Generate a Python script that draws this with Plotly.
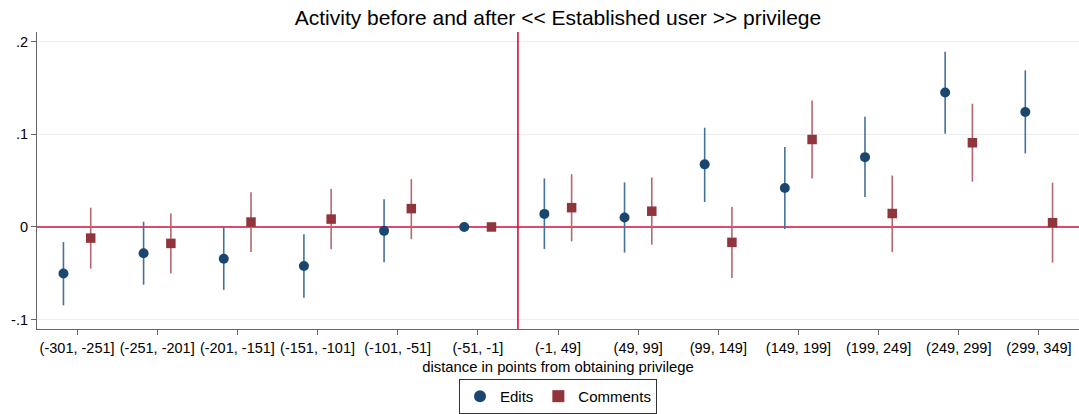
import plotly.graph_objects as go

categories = ["(-301, -251]", "(-251, -201]", "(-201, -151]", "(-151, -101]", "(-101, -51]",
              "(-51, -1]", "(-1, 49]", "(49, 99]", "(99, 149]", "(149, 199]",
              "(199, 249]", "(249, 299]", "(299, 349]"]

edits = [-0.0502, -0.0283, -0.0343, -0.0420, -0.0042, 0.0, 0.0141, 0.0102, 0.0675, 0.0420, 0.0753, 0.1449, 0.1240]
edits_hi = [-0.0163, 0.0057, 0.0004, -0.0078, 0.0300, 0.0, 0.0523, 0.0480, 0.1070, 0.0862, 0.1187, 0.1890, 0.1689]
edits_lo = [-0.0845, -0.0622, -0.0678, -0.0763, -0.0380, 0.0, -0.0237, -0.0276, 0.0269, -0.0021, 0.0322, 0.1004, 0.0792]

comments = [-0.0120, -0.0177, 0.0053, 0.0085, 0.0198, 0.0, 0.0208, 0.0170, -0.0166, 0.0943, 0.0145, 0.0908, 0.0046]
comments_hi = [0.0208, 0.0145, 0.0375, 0.0410, 0.0516, 0.0, 0.0569, 0.0534, 0.0216, 0.1364, 0.0555, 0.1329, 0.0477]
comments_lo = [-0.0449, -0.0502, -0.0269, -0.0240, -0.0131, 0.0, -0.0155, -0.0191, -0.0551, 0.0523, -0.0269, 0.0488, -0.0385]

y_tickvals = [-0.1, 0, 0.1, 0.2]
y_ticktext = ["-.1", "0", ".1", ".2"]

X_RANGE = [0.5, 13.5]
Y_RANGE = [-0.110, 0.2102]
XLINE = 6.5   # vertical reference line (privilege obtained)
YLINE = 0.0   # horizontal reference line

OFFSET = 0.17
pos = list(range(1, len(categories) + 1))

NAVY = "#1a476f"
NAVY_CI = "#44719a"
MAROON = "#90353b"
MAROON_CI = "#b8666d"
RED = "#d4103c"
FONT = "Liberation Sans, Arial, sans-serif"

fig = go.Figure()
# reference lines as traces (drawn beneath markers)
fig.add_trace(go.Scatter(x=X_RANGE, y=[YLINE, YLINE], mode="lines", showlegend=False,
                         hoverinfo="skip", line=dict(color=RED, width=1.6)))
fig.add_trace(go.Scatter(x=[XLINE, XLINE], y=Y_RANGE, mode="lines", showlegend=False,
                         hoverinfo="skip", line=dict(color=RED, width=1.6)))

fig.add_trace(go.Scatter(
    x=[p - OFFSET for p in pos], y=edits, mode="markers", name="Edits",
    marker=dict(symbol="circle", size=10, color=NAVY),
    error_y=dict(type="data", symmetric=False,
                 array=[h - v for h, v in zip(edits_hi, edits)],
                 arrayminus=[v - l for v, l in zip(edits, edits_lo)],
                 width=0, thickness=1.6, color=NAVY_CI),
))
fig.add_trace(go.Scatter(
    x=[p + OFFSET for p in pos], y=comments, mode="markers", name="Comments",
    marker=dict(symbol="square", size=9.5, color=MAROON),
    error_y=dict(type="data", symmetric=False,
                 array=[h - v for h, v in zip(comments_hi, comments)],
                 arrayminus=[v - l for v, l in zip(comments, comments_lo)],
                 width=0, thickness=1.6, color=MAROON_CI),
))

fig.update_layout(
    width=1079, height=414,
    margin=dict(l=37, r=0, t=32, b=80),
    paper_bgcolor="white", plot_bgcolor="white",
    font=dict(family=FONT, size=14.5, color="black"),
    title=dict(text="Activity before and after << Established user >> privilege",
               x=(37 + 1079) / 2 / 1079, xanchor="center", y=0.958, yanchor="middle",
               font=dict(size=21, color="black")),
    showlegend=True,
    legend=dict(orientation="h", x=0.5, xanchor="center", y=-0.168, yanchor="top",
                bordercolor="#333333", borderwidth=1, font=dict(size=15),
                itemsizing="constant"),
    xaxis=dict(range=X_RANGE, tickmode="array", tickvals=pos, ticktext=categories,
               showgrid=False, zeroline=False, showline=True, linecolor="#666666", linewidth=1.2,
               ticks="outside", ticklen=5, tickcolor="#666666",
               tickfont=dict(size=14.5),
               title=dict(text="distance in points from obtaining privilege", font=dict(size=14.8),
                          standoff=7)),
    yaxis=dict(range=Y_RANGE, tickmode="array", tickvals=y_tickvals, ticktext=y_ticktext,
               showgrid=True, gridcolor="#eeeeee", gridwidth=1, zeroline=False,
               showline=True, linecolor="#666666", linewidth=1.2,
               ticks="outside", ticklen=5, tickcolor="#666666",
               tickfont=dict(size=14.5)),
)

fig.write_html("out.html")
